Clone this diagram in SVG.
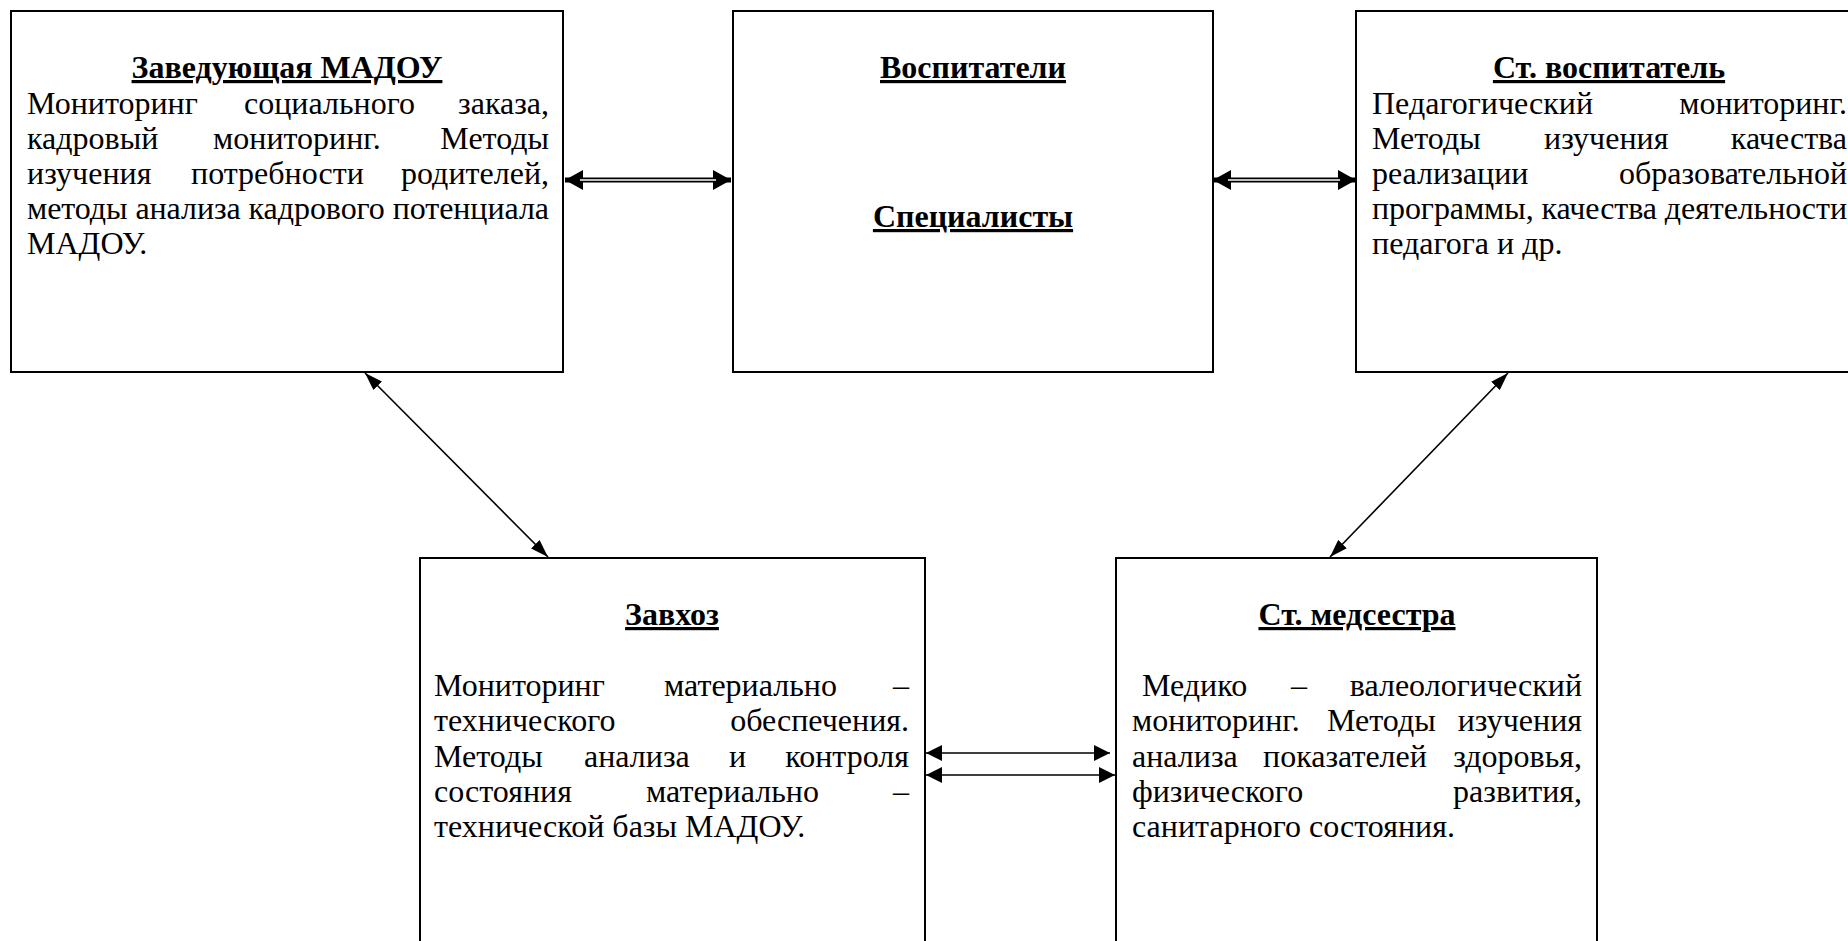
<svg xmlns="http://www.w3.org/2000/svg" width="1848" height="941" viewBox="0 0 1848 941">
<style>
.box{fill:#fff;stroke:#000;stroke-width:2}
text{font-family:"Liberation Serif","Times New Roman",serif;font-size:32px;fill:#000}
.t{font-weight:bold;text-decoration:underline;text-anchor:middle}
.e{text-anchor:end}
.ln{stroke:#000;stroke-width:1.6;fill:none}
</style>
<defs>
<marker id="ah" viewBox="0 0 18 12" refX="18" refY="6" markerWidth="18" markerHeight="12" markerUnits="userSpaceOnUse" orient="auto-start-reverse"><path d="M0,0 L18,6 L0,12 z" fill="#000"/></marker>
<marker id="ah2" viewBox="0 0 16 16" refX="16" refY="8" markerWidth="16" markerHeight="16" markerUnits="userSpaceOnUse" orient="auto-start-reverse"><path d="M0,0 L16,8 L0,16 z" fill="#000"/></marker>
<marker id="ah3" viewBox="0 0 18 20" refX="18" refY="10" markerWidth="18" markerHeight="20" markerUnits="userSpaceOnUse" orient="auto-start-reverse"><path d="M0,0 L18,10 L0,20 z" fill="#000"/></marker>
</defs>
<rect width="1848" height="941" fill="#fff"/>

<g id="n-zav">
<rect class="box" x="11" y="11" width="552" height="361"/>
<text class="t" x="287" y="78">Заведующая МАДОУ</text>
<text x="27" y="114">Мониторинг</text><text x="244" y="114">социального</text><text class="e" x="549" y="114">заказа,</text>
<text x="27" y="149">кадровый</text><text x="213" y="149">мониторинг.</text><text class="e" x="549" y="149">Методы</text>
<text x="27" y="184">изучения</text><text x="191" y="184">потребности</text><text class="e" x="549" y="184">родителей,</text>
<text x="27" y="219" textLength="522" lengthAdjust="spacing">методы анализа кадрового потенциала</text>
<text x="27" y="254">МАДОУ.</text>
</g>

<g id="n-vosp">
<rect class="box" x="733" y="11" width="480" height="361"/>
<text class="t" x="973" y="78">Воспитатели</text>
<text class="t" x="973" y="227">Специалисты</text>
</g>

<g id="n-stvosp">
<rect class="box" x="1356" y="11" width="520" height="361"/>
<text class="t" x="1609" y="78">Ст. воспитатель</text>
<text x="1372" y="114">Педагогический</text><text class="e" x="1847" y="114">мониторинг.</text>
<text x="1372" y="149">Методы</text><text x="1544" y="149">изучения</text><text class="e" x="1847" y="149">качества</text>
<text x="1372" y="184">реализации</text><text class="e" x="1847" y="184">образовательной</text>
<text x="1372" y="219" textLength="475" lengthAdjust="spacing">программы, качества деятельности</text>
<text x="1372" y="254">педагога и др.</text>
</g>

<g id="n-zavhoz">
<rect class="box" x="420" y="558" width="505" height="400"/>
<text class="t" x="672" y="625">Завхоз</text>
<text x="434" y="696">Мониторинг</text><text x="664" y="696">материально</text><text class="e" x="909" y="696">–</text>
<text x="434" y="731">технического</text><text class="e" x="909" y="731">обеспечения.</text>
<text x="434" y="767">Методы</text><text x="584" y="767">анализа</text><text x="729" y="767">и</text><text class="e" x="909" y="767">контроля</text>
<text x="434" y="802">состояния</text><text x="646" y="802">материально</text><text class="e" x="909" y="802">–</text>
<text x="434" y="837">технической базы МАДОУ.</text>
</g>

<g id="n-med">
<rect class="box" x="1116" y="558" width="481" height="400"/>
<text class="t" x="1357" y="625">Ст. медсестра</text>
<text x="1142" y="696">Медико</text><text x="1291" y="696">–</text><text class="e" x="1582" y="696">валеологический</text>
<text x="1132" y="731">мониторинг.</text><text x="1327" y="731">Методы</text><text class="e" x="1582" y="731">изучения</text>
<text x="1132" y="767">анализа</text><text x="1263" y="767">показателей</text><text class="e" x="1582" y="767">здоровья,</text>
<text x="1132" y="802">физического</text><text class="e" x="1582" y="802">развития,</text>
<text x="1132" y="837">санитарного состояния.</text>
</g>

<g id="connectors">
<line x1="565" y1="180" x2="731" y2="180" stroke="#000" stroke-width="5" marker-start="url(#ah3)" marker-end="url(#ah3)"/>
<line x1="580" y1="180" x2="716" y2="180" stroke="#fff" stroke-width="1.5"/>
<line x1="1213" y1="180" x2="1356" y2="180" stroke="#000" stroke-width="5" marker-start="url(#ah3)" marker-end="url(#ah3)"/>
<line x1="1228" y1="180" x2="1340" y2="180" stroke="#fff" stroke-width="1.5"/>
<line class="ln" x1="365" y1="373" x2="548" y2="557" marker-start="url(#ah)" marker-end="url(#ah)"/>
<line class="ln" x1="1508" y1="373" x2="1330" y2="557" marker-start="url(#ah)" marker-end="url(#ah)"/>
<line class="ln" x1="926" y1="753" x2="1110" y2="753" marker-start="url(#ah2)" marker-end="url(#ah2)"/>
<line class="ln" x1="926" y1="775" x2="1115" y2="775" marker-start="url(#ah2)" marker-end="url(#ah2)"/>
</g>
</svg>
